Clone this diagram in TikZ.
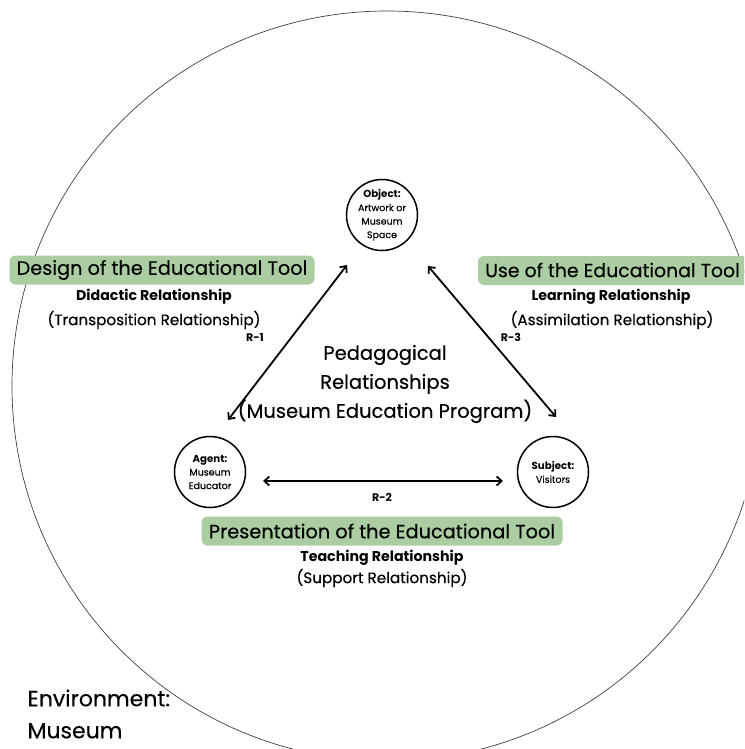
\documentclass[tikz,border=0pt]{standalone}
\usepackage{fontspec}
\setmainfont{Poppins}[UprightFeatures={FakeBold=0.25}]
\usetikzlibrary{arrows.meta}
\definecolor{boxgreen}{RGB}{170,206,162}
\tikzset{
  ent/.style={circle,draw,line width=1.5pt,minimum size=71pt,inner sep=0pt,align=center,font=\fontsize{9.5}{13.5}\selectfont},
  head/.style={fill=boxgreen,rounded corners=6pt,minimum height=29pt,inner xsep=5pt,font=\fontsize{19.3}{22}\selectfont},
  rel/.style={font=\bfseries\fontsize{14.2}{16}\selectfont},
  sub/.style={font=\fontsize{15.2}{17}\selectfont},
  rl/.style={font=\bfseries\fontsize{11}{13}\selectfont},
  conn/.style={line width=1.8pt,{Straight Barb[length=5pt,width=9pt]}-{Straight Barb[length=5pt,width=9pt]}}
}
\begin{document}
\begin{tikzpicture}[x=1pt,y=-1pt]
\useasboundingbox (0,0) rectangle (744,749);
\begin{scope}
\clip (0,0) rectangle (744,749);
\draw[line width=0.7pt,black!75] (387,386) circle[radius=375];
\fill[boxgreen,rounded corners=6pt] (478,256) rectangle (760,285);
\end{scope}
\node[anchor=west,inner xsep=0pt,font=\fontsize{18.9}{22}\selectfont] (useh) at (485,270) {Use of the Educational Tool};
\node[ent] (obj) at (382,215) {{\bfseries\fontsize{10.2}{12}\selectfont Object:}\\Artwork or\\Museum\\Space};
\node[ent] (agt) at (210,472) {{\bfseries\fontsize{10.2}{12}\selectfont Agent:}\\Museum\\Educator};
\node[ent] (sbj) at (553,472) {{\bfseries\fontsize{10.2}{12}\selectfont Subject:}\\Visitors};
\coordinate (a1) at (228,420); \coordinate (b1) at (347,265);
\coordinate (a3) at (428,266); \coordinate (b3) at (556,417);
\coordinate (a2) at (263,481); \coordinate (b2) at (503,481);
\draw[conn] (a1) -- (b1);
\draw[conn] (a3) -- (b3);
\draw[conn] (a2) -- (b2);
\node[rl] (r1) at (255,337) {R-1};
\node[rl] (r3) at (511,337) {R-3};
\node[rl] (r2) at (382,497) {R-2};
\node[head,minimum width=305pt] (desh) at (162,270) {Design of the Educational Tool};
\node[rel] (did) at (154,297) {Didactic Relationship};
\node[sub] (tra) at (154,320) {(Transposition Relationship)};
\node[rel] (lea) at (611,297) {Learning Relationship};
\node[sub] (ass) at (612,320) {(Assimilation Relationship)};
\node[head,minimum width=361pt] (preh) at (382,531) {Presentation of the Educational Tool};
\node[rel] (tea) at (382,558) {Teaching Relationship};
\node[sub] (sup) at (382,578) {(Support Relationship)};
\node[align=center,font=\fontsize{19.5}{29}\selectfont] (ped) at (385,384) {Pedagogical\\Relationships\\(Museum Education Program)};
\node[align=left,anchor=west,font=\fontsize{22}{32}\selectfont] (env) at (24,714) {Environment:\\Museum};
\end{tikzpicture}
\end{document}
